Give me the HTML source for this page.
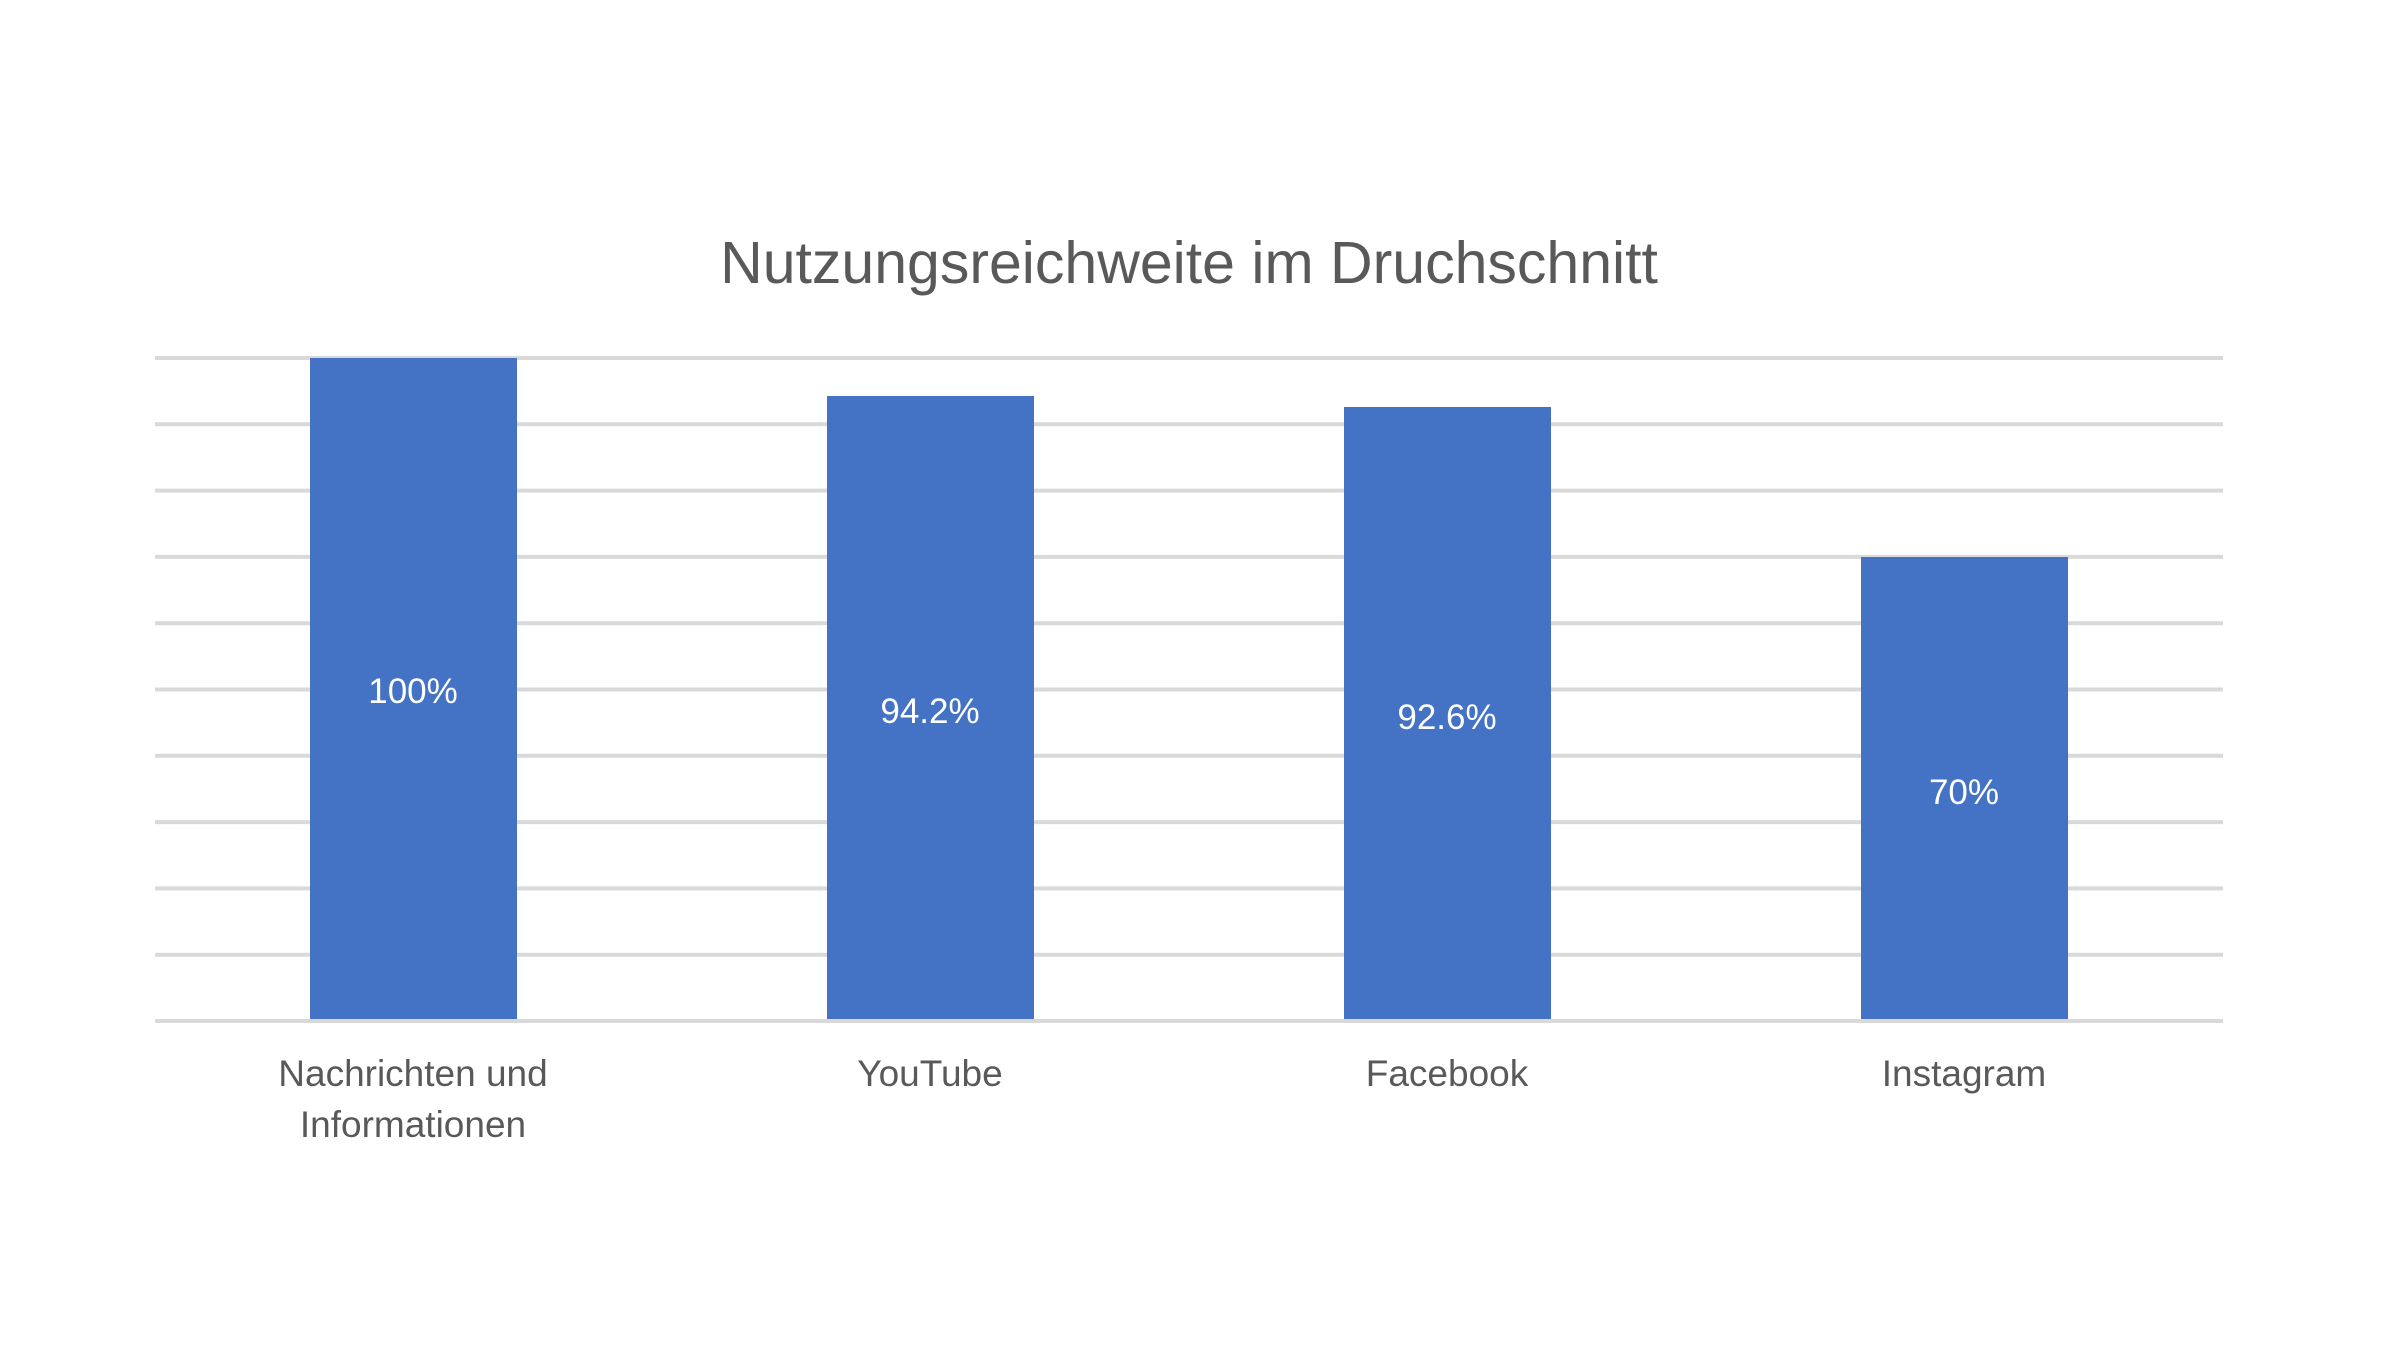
<!DOCTYPE html>
<html><head><meta charset="utf-8"><style>
html,body{margin:0;padding:0;background:#fff;}
body{width:2400px;height:1350px;position:relative;overflow:hidden;font-family:"Liberation Sans",sans-serif;}
</style></head><body>
<svg width="2400" height="1350" xmlns="http://www.w3.org/2000/svg" font-family="Liberation Sans, sans-serif">
<rect width="2400" height="1350" fill="#fff"/>
<text x="1189" y="283" text-anchor="middle" font-size="59" fill="#595959">Nutzungsreichweite im Druchschnitt</text>
<g stroke="#d9d9d9" stroke-width="4">
<line x1="155" x2="2223" y1="358" y2="358"/>
<line x1="155" x2="2223" y1="424.3" y2="424.3"/>
<line x1="155" x2="2223" y1="490.6" y2="490.6"/>
<line x1="155" x2="2223" y1="556.9" y2="556.9"/>
<line x1="155" x2="2223" y1="623.2" y2="623.2"/>
<line x1="155" x2="2223" y1="689.5" y2="689.5"/>
<line x1="155" x2="2223" y1="755.8" y2="755.8"/>
<line x1="155" x2="2223" y1="822.1" y2="822.1"/>
<line x1="155" x2="2223" y1="888.4" y2="888.4"/>
<line x1="155" x2="2223" y1="954.7" y2="954.7"/>
<line x1="155" x2="2223" y1="1021" y2="1021"/>
</g>
<g fill="#4472c4">
<rect x="310" y="358" width="207" height="661"/>
<rect x="827" y="396" width="207" height="623"/>
<rect x="1344" y="407" width="207" height="612"/>
<rect x="1861" y="557" width="207" height="462"/>
</g>
<g fill="#fff" font-size="35" text-anchor="middle">
<text x="413" y="703">100%</text>
<text x="930" y="723">94.2%</text>
<text x="1447" y="729">92.6%</text>
<text x="1964" y="804">70%</text>
</g>
<g fill="#595959" font-size="37" text-anchor="middle">
<text x="413" y="1086">Nachrichten und</text>
<text x="413" y="1137">Informationen</text>
<text x="930" y="1086">YouTube</text>
<text x="1447" y="1086">Facebook</text>
<text x="1964" y="1086">Instagram</text>
</g>
</svg>
</body></html>
